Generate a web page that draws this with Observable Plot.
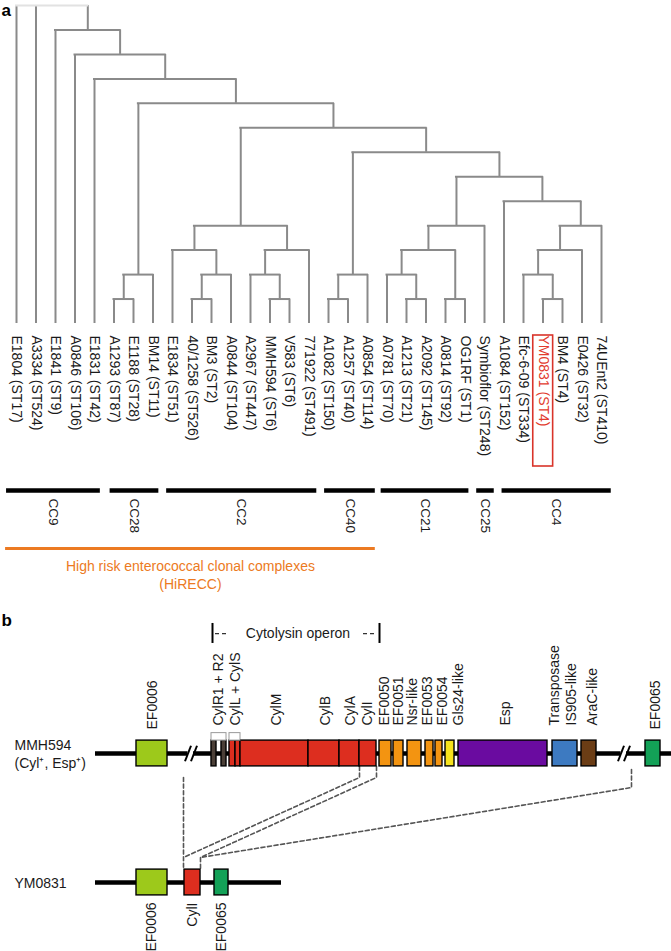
<!DOCTYPE html>
<html><head><meta charset="utf-8">
<script src="https://cdn.jsdelivr.net/npm/d3@7"></script>
<script src="https://cdn.jsdelivr.net/npm/@observablehq/plot@0.6"></script>
<style>
body{margin:0;background:#fff;}
#chart{width:671px;}
#chart svg{display:block;}
</style></head><body><div id="chart"></div>
<script>
// ================= DATA =================
// Panel a: isolates (leaf order left -> right)
const leaves = ["E1804 (ST17)","A3334 (ST524)","E1841 (ST9)","A0846 (ST106)","E1831 (ST42)",
  "A1293 (ST87)","E1188 (ST28)","BM14 (ST11)","E1834 (ST51)","40/1258 (ST526)","BM3 (ST2)",
  "A0844 (ST104)","A2967 (ST447)","MMH594 (ST6)","V583 (ST6)","771922 (ST491)","A1082 (ST150)",
  "A1257 (ST40)","A0854 (ST114)","A0781 (ST70)","A1213 (ST21)","A2092 (ST145)","A0814 (ST92)",
  "OG1RF (ST1)","Symbioflor (ST248)","A1084 (ST152)","Efc-6-09 (ST334)","YM0831 (ST4)",
  "BM4 (ST4)","E0426 (ST32)","74UEnt2 (ST410)"];
const highlighted = "YM0831 (ST4)";
// Tree topology: leaf = index in `leaves`, number after ')' = node level (cladogram depth)
const treeNewick = "(0,1,(2,(3,(4,(((5,6)1,7)2,(((8,((9,10)1,11)2)3,((12,(13,14)1)2,15)3)4,(((16,17)1,18)2,((((19,(20,21)1)2,(22,23)1)3,24)4,(25,(((26,(27,28)1)2,29)3,30)4)5)6)7)8)9)10)11)12)13";
// Clonal complexes (span in leaf-index units)
const ccNames = ["CC9","CC28","CC2","CC40","CC21","CC25","CC4"];
const ccStart = [-0.51, 4.8, 7.7, 15.8, 18.7, 23.6, 24.9];
const ccEnd   = [4.3, 7.3, 15.4, 18.4, 23.2, 24.5, 30.5];
const hireccMembers = ["CC9","CC28","CC2","CC40"];
const hireccLabel = "High risk enterococcal clonal complexes\n(HiRECC)";

// Panel b: MMH594 locus (positions in arbitrary map units)
const geneName  = ["EF0006","CylR1","CylR2","CylL-L","CylL-S","CylM","CylB","CylA","CylI","EF0050","EF0051","Nsr-like","EF0053","EF0054","Gls24-like","Esp","Transposase","AraC-like","EF0065"];
const geneStart = [136,211,221,229,235,240,308,339,359,379,393,407,425,435,445,458,552,581,645];
const geneEnd   = [167,216,226,235,240,308,339,359,376,391,403,421,433,442,454,547,577,596,660];
const geneGroup = ["EF0006","CylR","CylR","Cyl","Cyl","Cyl","Cyl","Cyl","Cyl","Orange","Orange","Orange","Orange","Orange","Gls24","Esp","IS905","AraC","EF0065"];
const labelText = ["EF0006","CylR1 + R2","CylL + CylS","CylM","CylB","CylA","CylI","EF0050","EF0051","Nsr-like","EF0053","EF0054","Gls24-like","Esp","Transposase","IS905-like","AraC-like","EF0065"];
const labelPos  = [152,218,235,276,325,350,367,384,398,412,427,442,458,505,554,571,592,655];
const bracketStart = [211, 229];
const bracketEnd   = [226, 240];
const operonStart = 212, operonEnd = 379, operonLabel = "Cytolysin operon";
const mmhBreaks = [190, 623];
const mmhExtent = [95, 671];
// YM0831 locus
const ymName  = ["EF0006","CylI","EF0065"];
const ymStart = [136,184,214];
const ymEnd   = [167,200,228];
const ymGroup = ["EF0006","Cyl","EF0065"];
const ymExtent = [95, 281];
// Homology connectors: [position, row] (row 0 = MMH594, row 1 = YM0831)
const connectors = [
  [[183,0.186],[183,0.9]],
  [[359,0.1],[359,0.186],[183,0.806]],
  [[376,0.1],[376,0.186],[200,0.806],[200,0.9]],
  [[631,0.124],[631,0.264],[200,0.806]]
];
const rowNames = ["MMH594\n(Cyl\u207A, Esp\u207A)", "YM0831"];

// ================= RENDER =================
const FONT = "Liberation Sans, Arial, Helvetica, sans-serif";
const INK = "#1a1a1a";

function parseTree(s){
  let i = 0;
  const num = () => { const j = i; while (i < s.length && /[0-9.]/.test(s[i])) i++; return +s.slice(j, i); };
  function node(){
    if (s[i] === "(") {
      i++; const children = [node()];
      while (s[i] === ",") { i++; children.push(node()); }
      i++; return {children, level: num()};
    }
    return {leaf: num(), level: 0};
  }
  return node();
}
const root = parseTree(treeNewick);
(function place(n){ if (n.children){ n.children.forEach(place); n.x = (n.children[0].x + n.children[n.children.length-1].x)/2; } else n.x = n.leaf; })(root);
const hSegs = [], vSegs = [];
(function collect(n, depth){
  if (!n.children) return;
  hSegs.push({x1: n.children[0].x, x2: n.children[n.children.length-1].x, y: n.level, root: depth === 0});
  n.children.forEach(c => { vSegs.push({x: c.x, y1: c.level, y2: n.level}); collect(c, depth+1); });
})(root, 0);

const LEVEL_PX = (323 - 5) / 13;
const below = px => -px / LEVEL_PX;   // pixel offset below leaf tips -> level units
const ccIdx = d3.range(ccNames.length);
const hiIdx = hireccMembers.map(n => ccNames.indexOf(n));
const hiX1 = d3.min(hiIdx, i => ccStart[i]) - 0.05, hiX2 = d3.max(hiIdx, i => ccEnd[i]);
const hiIndex = leaves.indexOf(highlighted);

const panelA = Plot.plot({
  width: 671, height: 600, margin: 0,
  style: {fontFamily: FONT, fontSize: "14px", color: INK, background: "white"},
  x: {axis: null, domain: [0, 30], range: [16, 601]},
  y: {axis: null, domain: [0, 13], range: [323, 5]},
  marks: [
    Plot.ruleX(vSegs, {x: "x", y1: "y1", y2: "y2", stroke: "#8a8a8a", strokeWidth: 2}),
    Plot.ruleY(hSegs, {x1: "x1", x2: "x2", y: "y", stroke: d => d.root ? "#e2e2e2" : "#8a8a8a", strokeWidth: 2, strokeLinecap: "square"}),
    Plot.text(leaves, {x: (d, i) => i, y: 0, text: d => d, rotate: 90, textAnchor: "start", dy: 12,
      fill: d => d === highlighted ? "#e23b2e" : INK, fontSize: 14}),
    Plot.rect([hiIndex], {x1: d => d - 0.5, x2: d => d + 0.52, y1: below(12), y2: below(143), fill: "none", stroke: "#d9342a", strokeWidth: 1.6}),
    Plot.ruleY(ccIdx, {x1: i => ccStart[i], x2: i => ccEnd[i], y: below(167), stroke: "black", strokeWidth: 4.5}),
    Plot.text(ccIdx, {x: i => (ccStart[i] + ccEnd[i]) / 2, y: below(175), text: i => ccNames[i], rotate: 90, textAnchor: "start", fontSize: 13.5, fill: INK}),
    Plot.ruleY([0], {x1: hiX1, x2: hiX2, y: below(225), stroke: "#ec7a22", strokeWidth: 3.2}),
    Plot.text([hireccLabel], {x: (hiX1 + hiX2) / 2, y: below(251), text: d => d, fill: "#ec7a22", fontSize: 14, lineHeight: 1.22}),
    Plot.text(["a"], {frameAnchor: "top-left", dx: 1, dy: 3, fontWeight: "bold", fontSize: 17, lineAnchor: "top", fill: "black"})
  ]
});

const geneColors = {EF0006: "#9dc91b", CylR: "#4b3f37", Cyl: "#dd2e1f", Orange: "#f39411", Gls24: "#f6e21d",
  Esp: "#6a0ba0", IS905: "#3d7ac1", AraC: "#6b3d15", EF0065: "#13a157"};
const gIdx = d3.range(geneName.length);
const yIdx = d3.range(ymName.length);
const lIdx = d3.range(labelText.length);
const outer = ["EF0006", "EF0065"];
const connPts = connectors.flatMap((c, k) => c.map(([x, y]) => ({x, y, k})));
const H = 0.1; // half box height (row units)

const panelB = Plot.plot({
  width: 671, height: 351, margin: 0,
  style: {fontFamily: FONT, fontSize: "14px", color: INK, background: "white"},
  x: {axis: null, domain: [0, 671], range: [0, 671]},
  y: {axis: null, domain: [0, 1], range: [153, 282]},
  marks: [
    // genome backbones
    Plot.ruleY([0], {x1: mmhExtent[0], x2: mmhExtent[1], y: 0, stroke: "black", strokeWidth: 4.5}),
    Plot.ruleY([1], {x1: ymExtent[0], x2: ymExtent[1], y: 1, stroke: "black", strokeWidth: 4.5}),
    // breaks
    Plot.rect(mmhBreaks, {x1: d => d - 2.5, x2: d => d + 3, y1: -0.03, y2: 0.03, fill: "white"}),
    Plot.link(mmhBreaks, {x1: d => d - 5.5, x2: d => d + 0.5, y1: 0.06, y2: -0.06, stroke: "black", strokeWidth: 2}),
    Plot.link(mmhBreaks, {x1: d => d + 0.5, x2: d => d + 6.5, y1: 0.06, y2: -0.06, stroke: "black", strokeWidth: 2}),
    // homology connectors
    Plot.line(connPts, {x: "x", y: "y", z: "k", stroke: "#555", strokeWidth: 1.6, strokeDasharray: "4,2.6", curve: "linear"}),
    // gene boxes
    Plot.rect(gIdx, {x1: i => geneStart[i], x2: i => geneEnd[i], y1: -H, y2: H, fill: i => geneColors[geneGroup[i]], stroke: "black", strokeWidth: 1.4}),
    Plot.rect(yIdx, {x1: i => ymStart[i], x2: i => ymEnd[i], y1: 1 - H, y2: 1 + H, fill: i => geneColors[ymGroup[i]], stroke: "black", strokeWidth: 1.4}),
    // small brackets over CylR1/R2 and CylL/CylS
    Plot.rect([0, 1], {x1: i => bracketStart[i], x2: i => bracketEnd[i], y1: -0.158, y2: -H, fill: "white", stroke: "#9a9a9a", strokeWidth: 1}),
    // gene labels (MMH594)
    Plot.text(lIdx, {x: i => labelPos[i], y: 0, text: i => labelText[i], rotate: -90, textAnchor: "start",
      fontSize: 14, fill: INK, filter: i => !outer.includes(labelText[i]), dy: -28}),
    Plot.text(lIdx, {x: i => labelPos[i], y: 0, text: i => labelText[i], rotate: -90, textAnchor: "start",
      fontSize: 14, fill: INK, filter: i => outer.includes(labelText[i]), dy: -24}),
    // gene labels (YM0831)
    Plot.text(yIdx, {x: i => (ymStart[i] + ymEnd[i]) / 2, y: 1, text: i => ymName[i], rotate: -90, textAnchor: "end", dy: 20, fontSize: 14, fill: INK}),
    // cytolysin operon bracket
    Plot.ruleX([operonStart, operonEnd], {x: d => d, y1: -1.008, y2: -0.853, stroke: "black", strokeWidth: 2}),
    Plot.ruleY([[operonStart + 3, operonStart + 16], [operonEnd - 16, operonEnd - 3]], {x1: d => d[0], x2: d => d[1], y: -0.93, stroke: "#333", strokeWidth: 1.2, strokeDasharray: "4,3"}),
    Plot.text([operonLabel], {x: (operonStart + operonEnd) / 2 + 2, y: -0.93, text: d => d, fontSize: 14, fill: INK}),
    // row labels
    Plot.text(rowNames, {x: 14, y: (d, i) => i, text: d => d, textAnchor: "start", fontSize: 14, lineHeight: 1.3, fill: INK}),
    Plot.text(["b"], {frameAnchor: "top-left", dx: 1, dy: 13, fontWeight: "bold", fontSize: 17, lineAnchor: "top", fill: "black"})
  ]
});

const chart = document.getElementById("chart");
chart.append(panelA, panelB);
</script></body></html>
